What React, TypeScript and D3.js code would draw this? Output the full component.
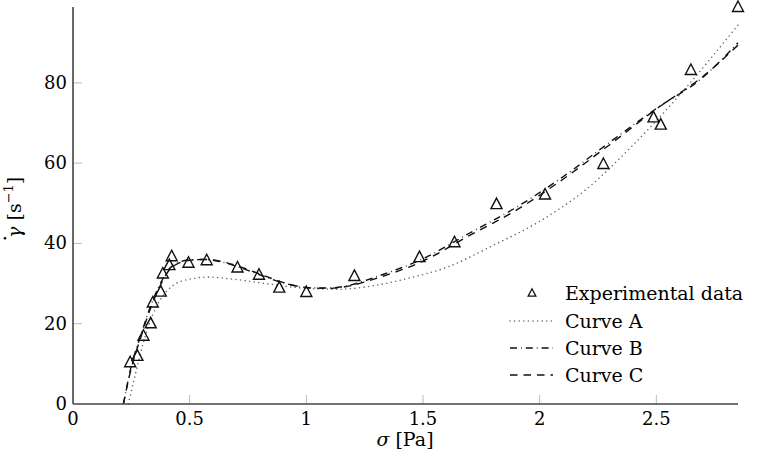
import * as d3 from "d3";

const W = 757;
const H = 465;
const margin = { top: 7, right: 19, bottom: 61, left: 73 };

// experimental data (sigma [Pa], gamma dot [1/s])
const expSigma = [0.245, 0.276, 0.302, 0.333, 0.342, 0.376, 0.385, 0.413, 0.423, 0.495, 0.573, 0.705, 0.797, 0.884, 1.0, 1.206, 1.485, 1.635, 1.815, 2.023, 2.273, 2.488, 2.519, 2.648, 2.85];
const expRate = [10.4, 12.0, 17.0, 20.1, 25.3, 28.0, 32.5, 34.6, 36.8, 35.2, 35.8, 34.0, 32.2, 29.0, 27.9, 31.9, 36.6, 40.3, 49.8, 52.2, 59.8, 71.4, 69.6, 83.2, 98.9];

// fitted curves
const curveASigma = [0.237, 0.27, 0.3, 0.34, 0.38, 0.43, 0.5, 0.58, 0.7, 0.85, 1.0, 1.15, 1.3, 1.45, 1.6, 1.8, 2.0, 2.2, 2.4, 2.6, 2.85];
const curveARate = [0, 8, 15, 22, 26.5, 29.6, 31.1, 31.6, 31.0, 29.8, 28.8, 28.6, 29.6, 31.5, 34.0, 39.5, 45.5, 53.5, 64.5, 77, 94.4];

const curveBCSigma = [0.216, 0.25, 0.29, 0.33, 0.37, 0.41, 0.45, 0.5, 0.56, 0.63, 0.7, 0.8, 0.9, 1.0, 1.1, 1.2, 1.3, 1.5, 1.7, 1.9, 2.1, 2.3, 2.5, 2.7, 2.85];
const curveBRate = [0, 9.5, 17, 24, 29.5, 33.5, 35.2, 35.9, 36, 35.5, 34.3, 32.2, 30.2, 29.0, 28.9, 29.8, 31.7, 36.2, 42.6, 49.0, 56.6, 65.2, 73.6, 81.4, 90.0];
const curveCRate = [0, 9, 16.5, 23.5, 29, 33.2, 35, 35.8, 36, 35.6, 34.5, 32.4, 30.3, 29.0, 28.8, 29.6, 31.3, 35.6, 42.0, 48.3, 56.0, 64.6, 73.5, 81.6, 89.4];

const xTicks = [0, 0.5, 1, 1.5, 2, 2.5];
const yTicks = [0, 20, 40, 60, 80];

const legendItems = ["Experimental data", "Curve A", "Curve B", "Curve C"];

const font = "'DejaVu Serif', 'Liberation Serif', serif";
const ts = { fontFamily: font };

export default function App() {
  const x = d3.scaleLinear([0, 2.85], [margin.left, W - margin.right]);
  const y = d3.scaleLinear([0, 98.9], [H - margin.bottom, margin.top]);

  const line = d3
    .line<[number, number]>()
    .x((d) => x(d[0]))
    .y((d) => y(d[1]))
    .curve(d3.curveMonotoneX);

  const zip = (a: number[], b: number[]) => a.map((v, i) => [v, b[i]] as [number, number]);

  const styles = [
    { stroke: "#666", width: 1.6, dash: "0 4.6", cap: "round" },
    { stroke: "#111", width: 1.4, dash: "7 4 0.8 4", cap: "butt" },
    { stroke: "#111", width: 1.4, dash: "7.5 6", cap: "butt" },
  ];
  const curves = [
    zip(curveASigma, curveARate),
    zip(curveBCSigma, curveBRate),
    zip(curveBCSigma, curveCRate),
  ];

  const tri = (cx: number, cy: number, s: number) =>
    `M${cx},${cy - s * 0.6}L${cx + s * 0.55},${cy + s * 0.45}L${cx - s * 0.55},${cy + s * 0.45}Z`;

  const legX = 510;
  const legRows = [293, 321, 348, 375];

  return (
    <svg
      width={W}
      height={H}
      style={{ position: "absolute", left: 0, top: 0, background: "#fff" }}
    >
      {/* ticks */}
      {xTicks.map((t) => (
        <g key={"x" + t}>
          {t !== 0 && (
            <line x1={x(t)} x2={x(t)} y1={y(0)} y2={y(0) - 9} stroke="#bbb" strokeWidth={1} />
          )}
          <text x={x(t)} y={y(0) + 21} fontSize={18} textAnchor="middle" style={ts}>
            {t}
          </text>
        </g>
      ))}
      {yTicks.map((t) => (
        <g key={"y" + t}>
          {t !== 0 && (
            <line x1={x(0)} x2={x(0) + 9} y1={y(t)} y2={y(t)} stroke="#bbb" strokeWidth={1} />
          )}
          <text x={x(0) - 6} y={y(t) + 6} fontSize={18} textAnchor="end" style={ts}>
            {t}
          </text>
        </g>
      ))}

      {/* curves */}
      {curves.map((c, i) => (
        <path
          key={i}
          d={line(c) ?? ""}
          fill="none"
          stroke={styles[i].stroke}
          strokeWidth={styles[i].width}
          strokeDasharray={styles[i].dash}
          strokeLinecap={styles[i].cap as any}
        />
      ))}

      {/* experimental points */}
      {expSigma.map((s, i) => (
        <path
          key={i}
          d={tri(x(s), y(expRate[i]), 10)}
          fill="none"
          stroke="#111"
          strokeWidth={1.4}
        />
      ))}

      {/* axes */}
      <line x1={x(0)} x2={x(0)} y1={y(0)} y2={margin.top} stroke="#444" strokeWidth={1.6} />
      <line x1={x(0)} x2={W - margin.right} y1={y(0)} y2={y(0)} stroke="#444" strokeWidth={1.6} />

      {/* axis labels */}
      <text x={405} y={446} fontSize={19} textAnchor="middle" style={ts}>
        <tspan fontStyle="italic">σ</tspan> [Pa]
      </text>
      <g transform={`translate(21,${y(49)}) rotate(-90)`}>
        <text fontSize={19} textAnchor="middle" style={ts}>
          <tspan fontStyle="italic">γ</tspan> [s
          <tspan dy={-8} fontSize={13}>−1</tspan>
          <tspan dy={8}>]</tspan>
        </text>
        <circle cx={-31} cy={-16} r={1.3} fill="#000" />
      </g>

      {/* legend */}
      <path d={tri(legX + 22, legRows[0], 7)} fill="none" stroke="#111" strokeWidth={1.3} />
      {styles.map((st, i) => (
        <line
          key={i}
          x1={legX}
          x2={legX + 43}
          y1={legRows[i + 1]}
          y2={legRows[i + 1]}
          stroke={st.stroke}
          strokeWidth={st.width}
          strokeDasharray={st.dash}
          strokeLinecap={st.cap as any}
        />
      ))}
      {legendItems.map((t, i) => (
        <text key={t} x={legX + 55} y={legRows[i] + 7} fontSize={19} style={ts}>
          {t}
        </text>
      ))}
    </svg>
  );
}
